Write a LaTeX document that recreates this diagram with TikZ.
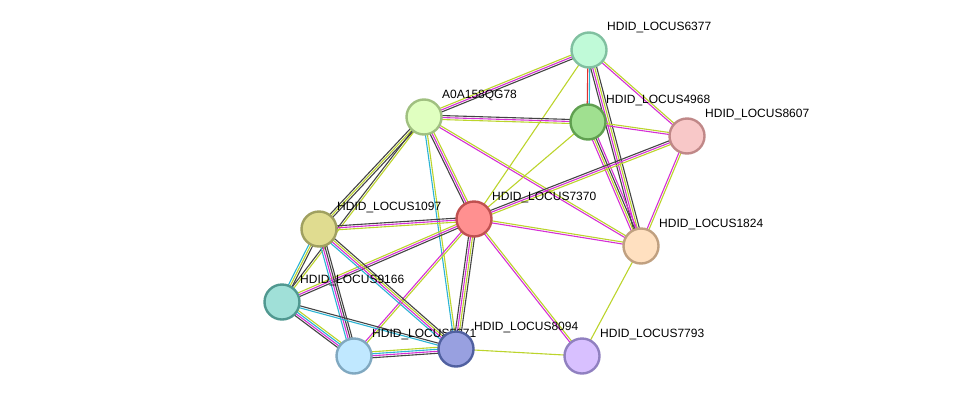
\documentclass[tikz,border=0pt]{standalone}
\usepackage{fontspec}
\setmainfont{Liberation Sans}
\usetikzlibrary{calc}
\definecolor{eK}{HTML}{444444}
\definecolor{eM}{HTML}{D530D5}
\definecolor{eY}{HTML}{BCD42C}
\definecolor{eC}{HTML}{2CB4D4}
\definecolor{eR}{HTML}{E03030}
\newcommand\edge[3]{\foreach \c/\o in {#3}{\draw[draw=\c,line width=1.1pt] ($(#1)!\o pt!90:(#2)$) -- ($(#2)!\o pt!-90:(#1)$);}}
\tikzset{prot/.style={circle,minimum size=35pt,inner sep=0pt,line width=2.4pt},
 lab/.style={anchor=west,font=\fontsize{12}{12}\selectfont,inner sep=0pt}}
\begin{document}
\begin{tikzpicture}[x=1pt,y=-1pt]
\useasboundingbox (0,0) rectangle (976,402);
\coordinate (p6377) at (589,50);
\coordinate (pA) at (424,117);
\coordinate (p4968) at (588,122);
\coordinate (p8607) at (687,136);
\coordinate (p7370) at (474,219);
\coordinate (p1097) at (319,229);
\coordinate (p1824) at (641,246);
\coordinate (p9166) at (282,302);
\coordinate (p5671) at (354,356);
\coordinate (p8094) at (456,349);
\coordinate (p7793) at (582,356);
\edge{p6377}{pA}{eY/-2,eM/0,eK/2}
\edge{p6377}{p4968}{eR/-1,eC/1}
\edge{p6377}{p8607}{eM/-1,eY/1}
\edge{p6377}{p1824}{eK/-3,eM/-1,eY/1,eK/3}
\edge{p6377}{p7370}{eY/0}
\edge{pA}{p4968}{eY/-2,eM/0,eK/2}
\edge{pA}{p7370}{eK/-2,eM/0,eY/2}
\edge{pA}{p1824}{eM/-1,eY/1}
\edge{pA}{p1097}{eK/-2,eY/0,eK/2}
\edge{pA}{p9166}{eK/-1,eY/1}
\edge{pA}{p8094}{eC/-1,eY/1}
\edge{p4968}{p8607}{eM/-1,eY/1}
\edge{p4968}{p1824}{eM/-3,eY/-1,eK/1,eM/3}
\edge{p4968}{p7370}{eY/0}
\edge{p8607}{p7370}{eK/-2,eM/0,eY/2}
\edge{p8607}{p1824}{eM/-1,eY/1}
\edge{p7370}{p1824}{eM/-1,eY/1}
\edge{p7370}{p1097}{eK/-2,eM/0,eY/2}
\edge{p7370}{p9166}{eY/-2,eM/0,eK/2}
\edge{p7370}{p5671}{eM/-1,eY/1}
\edge{p7370}{p8094}{eK/-3,eM/-1,eY/1,eK/3}
\edge{p7370}{p7793}{eM/-1,eY/1}
\edge{p1824}{p7793}{eY/0}
\edge{p1097}{p9166}{eC/-2,eY/0,eK/2}
\edge{p1097}{p5671}{eC/-3,eM/-1,eK/1,eK/3}
\edge{p1097}{p8094}{eC/-3,eM/-1,eY/1,eK/3}
\edge{p9166}{p5671}{eK/-3,eM/-1,eC/1,eY/3}
\edge{p9166}{p8094}{eC/-1,eK/1}
\edge{p5671}{p8094}{eK/-3,eM/-1,eC/1,eY/3}
\edge{p8094}{p7793}{eY/0}
\foreach \p/\t in {6377/HDID\_LOCUS6377,A/A0A158QG78,4968/HDID\_LOCUS4968,8607/HDID\_LOCUS8607,7370/HDID\_LOCUS7370,1097/HDID\_LOCUS1097,1824/HDID\_LOCUS1824,9166/HDID\_LOCUS9166,5671/HDID\_LOCUS5671,7793/HDID\_LOCUS7793}
 {\node[lab] (l\p) at ($(p\p)+(18,-22)$) {\t};}
\node[prot,fill={rgb,255:red,192;green,250;blue,216},draw={rgb,255:red,128;green,192;blue,160}] (n6377) at (p6377) {};
\node[prot,fill={rgb,255:red,224;green,255;blue,192},draw={rgb,255:red,160;green,192;blue,128}] (nA) at (pA) {};
\node[prot,fill={rgb,255:red,160;green,224;blue,144},draw={rgb,255:red,96;green,160;blue,80}] (n4968) at (p4968) {};
\node[prot,fill={rgb,255:red,248;green,200;blue,200},draw={rgb,255:red,192;green,136;blue,136}] (n8607) at (p8607) {};
\node[prot,fill={rgb,255:red,255;green,144;blue,144},draw={rgb,255:red,192;green,80;blue,80}] (n7370) at (p7370) {};
\node[prot,fill={rgb,255:red,224;green,220;blue,144},draw={rgb,255:red,160;green,160;blue,96}] (n1097) at (p1097) {};
\node[prot,fill={rgb,255:red,255;green,224;blue,192},draw={rgb,255:red,192;green,160;blue,128}] (n1824) at (p1824) {};
\node[prot,fill={rgb,255:red,160;green,224;blue,216},draw={rgb,255:red,80;green,152;blue,144}] (n9166) at (p9166) {};
\node[prot,fill={rgb,255:red,192;green,232;blue,255},draw={rgb,255:red,128;green,168;blue,192}] (n5671) at (p5671) {};
\node[prot,fill={rgb,255:red,152;green,160;blue,224},draw={rgb,255:red,80;green,96;blue,160}] (n8094) at (p8094) {};
\node[prot,fill={rgb,255:red,216;green,192;blue,255},draw={rgb,255:red,144;green,128;blue,192}] (n7793) at (p7793) {};
\node[lab] (l8094) at ($(p8094)+(18,-22)$) {HDID\_LOCUS8094};
\end{tikzpicture}
\end{document}
